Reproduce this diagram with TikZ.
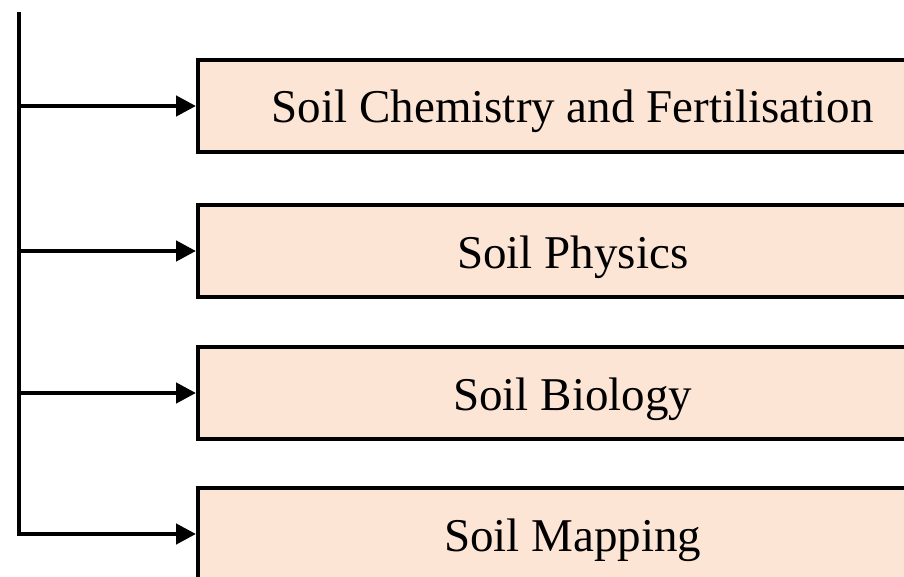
\documentclass[tikz,border=0pt]{standalone}
\usepackage{fontspec}
\setmainfont{Liberation Serif}
\usetikzlibrary{arrows.meta}
\definecolor{soilfill}{RGB}{253,229,213}

\tikzset{
  soilbox/.style={draw, line width=3.5pt, fill=soilfill, anchor=west,
    minimum width=750pt, minimum height=92pt, inner sep=0pt,
    text height=34pt, text depth=0pt,
    font=\fontsize{47}{56}\selectfont},
  branch/.style={line width=4.5pt, -{Triangle[length=20pt,width=20pt]}}
}

\begin{document}
\begin{tikzpicture}[x=1pt,y=-1pt]
  \useasboundingbox (0,0) rectangle (904,577);
  \clip (0,0) rectangle (904,577);

  \node[soilbox] (chem) at (196,106) {Soil Chemistry and Fertilisation};
  \node[soilbox] (phys) at (196,251) {Soil Physics};
  \node[soilbox] (bio)  at (196,393) {Soil Biology};
  \node[soilbox] (map)  at (196,534) {Soil Mapping};

  \coordinate (top) at (19,12);

  % trunk and branches
  \draw[branch] (top) -- (top |- map.west) -- (map.west);
  \draw[branch] (top |- chem.west) -- (chem.west);
  \draw[branch] (top |- phys.west) -- (phys.west);
  \draw[branch] (top |- bio.west)  -- (bio.west);
\end{tikzpicture}
\end{document}
